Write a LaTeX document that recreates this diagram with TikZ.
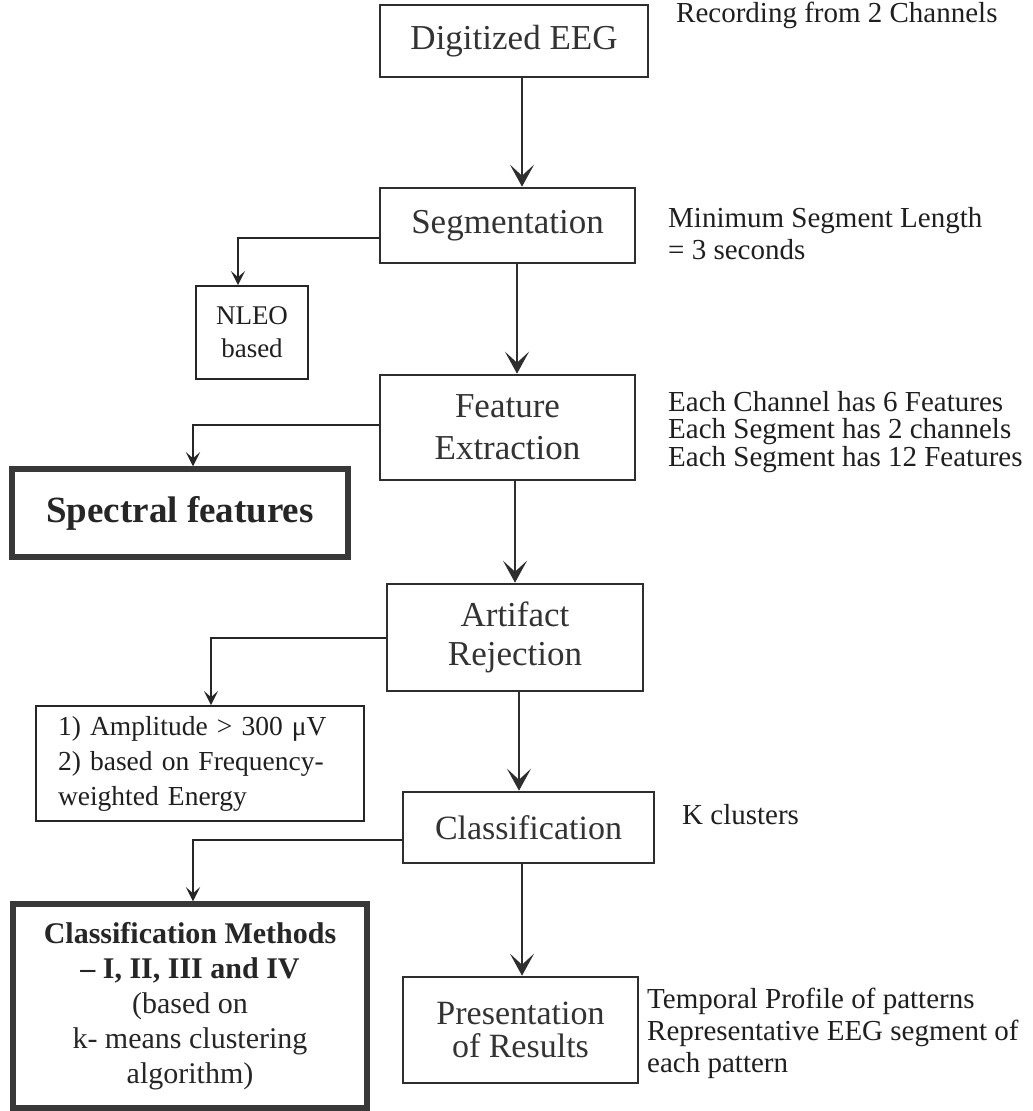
\documentclass[tikz,border=0pt]{standalone}
\usepackage{fontspec}
\setmainfont{Liberation Serif}
\usetikzlibrary{arrows.meta}
\begin{document}
\begin{tikzpicture}[x=1pt,y=1pt,
  box/.style={draw=black!82, line width=2.6pt, fill=white, text=black!80, align=center, inner sep=0pt, font=\fontsize{35}{40}\selectfont},
  thinbox/.style={draw=black!85, line width=1.8pt, fill=white, inner sep=0pt, text=black!88},
  thickbox/.style={draw=black!78, line width=5.5pt, fill=white, inner sep=0pt, text=black!85, align=center},
  side/.style={anchor=west, align=left, text=black!88, inner sep=0pt, font=\fontsize{29}{32}\selectfont},
  mainarr/.style={draw=black!82, line width=2.3pt, -{Stealth[length=22pt,width=24pt,inset=11pt]}},
  subarr/.style={draw=black!85, line width=2pt, -{Stealth[length=14pt,width=14pt,inset=6pt]}}
]
\fill[white] (0,0) rectangle (1033,-1111);
\useasboundingbox (0,0) rectangle (1033,-1111);

\node[box, minimum width=268pt, minimum height=72pt] (dig) at (514,-41) {Digitized EEG};
\node[box, minimum width=255pt, minimum height=75pt] (seg) at (507.5,-225.5) {Segmentation};
\node[thinbox, minimum width=112pt, minimum height=93pt, align=center, font=\fontsize{27}{33}\selectfont] (nleo) at (252,-332.5) {NLEO\\based};
\node[box, minimum width=255pt, minimum height=105pt, font=\fontsize{35}{42}\selectfont] (feat) at (507.5,-427.5) {Feature\\Extraction};
\node[thickbox, minimum width=336pt, minimum height=88pt, font=\bfseries\fontsize{37}{40}\selectfont] (spec) at (180,-513) {Spectral features};
\node[box, minimum width=256pt, minimum height=107pt, font=\fontsize{35}{39}\selectfont] (art) at (515,-637.5) {Artifact\\Rejection};
\node[thinbox, minimum width=328pt, minimum height=115pt, inner xsep=22pt, text width=284pt, align=left, font=\fontsize{27.5}{35}\selectfont] (amp) at (200,-763.5) {1) Amplitude > 300 μV\\2) based on Frequency-\\weighted Energy};
\node[box, minimum width=251pt, minimum height=71pt, font=\fontsize{34}{40}\selectfont] (cls) at (528.5,-827.5) {Classification};
\node[thickbox, minimum width=354pt, minimum height=204pt, font=\fontsize{30}{35}\selectfont] (meth) at (190,-1006) {\textbf{Classification Methods}\\\textbf{-- I, II, III and IV}\\(based on\\k- means clustering\\algorithm)};
\node[box, minimum width=235pt, minimum height=106pt, font=\fontsize{34}{33}\selectfont] (pres) at (520.5,-1030) {Presentation\\of Results};

\node[side] (t1) at (676,-15) {Recording from 2 Channels};
\node[side] (t2) at (668,-234) {Minimum Segment Length\\= 3 seconds};
\node[side, font=\fontsize{29}{27.5}\selectfont] (t3) at (668,-432) {Each Channel has 6 Features\\Each Segment has 2 channels\\Each Segment has 12 Features};
\node[side] (t4) at (682,-815) {K clusters};
\node[side] (t5) at (647,-1033) {Temporal Profile of patterns\\Representative EEG segment of\\each pattern};

\draw[mainarr] ([xshift=8pt]dig.south) -- ([xshift=14.5pt]seg.north);
\draw[mainarr] ([xshift=9.5pt]seg.south) -- ([xshift=9.5pt]feat.north);
\draw[mainarr] ([xshift=7.5pt]feat.south) -- (art.north);
\draw[mainarr] ([xshift=4pt]art.south) -- ([xshift=-9.5pt]cls.north);
\draw[mainarr] ([xshift=-6.5pt]cls.south) -- ([xshift=1.5pt]pres.north);
\draw[subarr] ([yshift=-12.5pt]seg.west) -| ([xshift=-14pt]nleo.north);
\draw[subarr] ([yshift=2.5pt]feat.west) -| ([xshift=13pt]spec.north);
\draw[subarr] (art.west) -| ([xshift=11pt]amp.north);
\draw[subarr] ([yshift=-12.5pt]cls.west) -| ([xshift=3pt]meth.north);
\end{tikzpicture}
\end{document}
